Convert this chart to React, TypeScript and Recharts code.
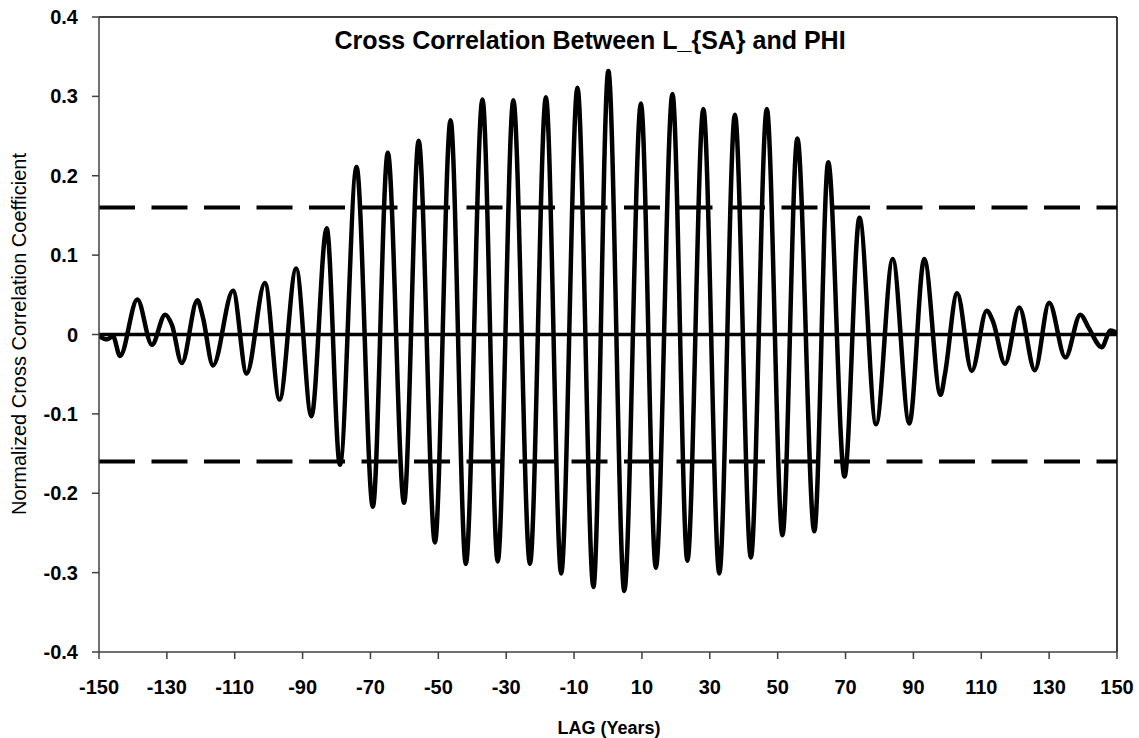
import { LineChart, Line, XAxis, YAxis, ReferenceLine } from "recharts";

// lag (years) at each turning point of the curve
const lags = [
  -150, -147.6, -145.9, -143.8, -138.7, -134.4, -130.5, -128.5, -125.6, -121.0,
  -119.4, -116.4, -110.5, -106.5, -101.1, -96.8, -91.9, -87.4, -82.9, -79.0,
  -74.1, -69.3, -64.9, -60.1, -55.8, -51.0, -46.4, -41.9, -37.0, -32.5,
  -27.9, -23.0, -18.3, -13.8, -9.0, -4.3, 0.1, 4.8, 9.7, 14.1,
  19.0, 23.4, 28.1, 32.8, 37.4, 42.1, 46.8, 51.4, 55.8, 60.8,
  64.9, 69.7, 74.1, 79.0, 83.9, 88.8, 93.2, 98.0, 99.3, 102.9,
  107.2, 111.6, 113.5, 117.0, 121.2, 125.8, 130.0, 134.8, 139.2, 141.7,
  145.5, 148.1, 150,
];

const coeff = [
  -0.002, -0.006, -0.002, -0.027, 0.044, -0.013, 0.025, 0.012, -0.036, 0.043,
  0.022, -0.039, 0.055, -0.049, 0.065, -0.082, 0.083, -0.103, 0.134, -0.164,
  0.211, -0.217, 0.229, -0.212, 0.244, -0.262, 0.27, -0.289, 0.296, -0.286,
  0.295, -0.289, 0.299, -0.301, 0.311, -0.318, 0.332, -0.323, 0.291, -0.294,
  0.303, -0.285, 0.284, -0.301, 0.277, -0.281, 0.284, -0.253, 0.247, -0.248,
  0.217, -0.179, 0.147, -0.113, 0.095, -0.112, 0.095, -0.076, -0.05, 0.052,
  -0.046, 0.03, 0.016, -0.037, 0.034, -0.045, 0.04, -0.029, 0.025, 0.008,
  -0.016, 0.005, 0.002,
];

const xTicks = [-150, -130, -110, -90, -70, -50, -30, -10, 10, 30, 50, 70, 90, 110, 130, 150];
const yTicks = [-0.4, -0.3, -0.2, -0.1, 0, 0.1, 0.2, 0.3, 0.4];
const significance = 0.16;

const data = lags.map((lag, i) => ({ lag, r: coeff[i] }));

const font = "'Liberation Sans', Arial, sans-serif";
const tickStyle = { fill: "#000", fontSize: 20, fontWeight: 700, fontFamily: font };

export default function App() {
  return (
    <div style={{ position: "absolute", left: 0, top: 0, width: 1139, height: 738, background: "#fff" }}>
      <LineChart
        width={1139}
        height={738}
        data={data}
        margin={{ top: 17, right: 22, left: 0, bottom: 36 }}
      >
        <XAxis
          dataKey="lag"
          type="number"
          domain={[-150, 150]}
          ticks={xTicks}
          allowDataOverflow
          height={50}
          tickSize={7}
          tickMargin={21}
          tick={tickStyle}
          axisLine={{ stroke: "#404040", strokeWidth: 1.5 }}
          tickLine={{ stroke: "#404040", strokeWidth: 1.5 }}
        />
        <YAxis
          type="number"
          domain={[-0.4, 0.4]}
          ticks={yTicks}
          allowDataOverflow
          width={99}
          tickSize={7}
          tickMargin={14}
          tick={tickStyle}
          tickFormatter={(v: number) => String(v)}
          axisLine={{ stroke: "#404040", strokeWidth: 1.5 }}
          tickLine={{ stroke: "#404040", strokeWidth: 1.5 }}
        />

        {/* plot frame */}
        <ReferenceLine y={0.4} stroke="#000" strokeWidth={1.5} />
        <ReferenceLine x={150} stroke="#000" strokeWidth={1.5} />

        <ReferenceLine y={0} stroke="#000" strokeWidth={3.5} />
        <ReferenceLine y={significance} stroke="#000" strokeWidth={4} strokeDasharray="36 16.5" />
        <ReferenceLine y={-significance} stroke="#000" strokeWidth={4} strokeDasharray="36 16.5" />

        <Line
          type="monotone"
          dataKey="r"
          stroke="#000"
          strokeWidth={4.5}
          dot={false}
          activeDot={false}
          isAnimationActive={false}
        />
      </LineChart>

      <svg
        width={1139}
        height={738}
        style={{ position: "absolute", left: 0, top: 0, pointerEvents: "none" }}
      >
        <text x={590} y={49} textAnchor="middle" fontFamily={font} fontWeight={700} fontSize={25} fill="#000">
          Cross Correlation Between L_{"{SA}"} and PHI
        </text>
        <text x={609} y={734} textAnchor="middle" fontFamily={font} fontWeight={700} fontSize={18} fill="#000">
          LAG (Years)
        </text>
        <text
          x={0}
          y={0}
          transform="translate(26 334) rotate(-90)"
          textAnchor="middle"
          fontFamily={font}
          fontSize={20}
          fill="#000"
        >
          Normalized Cross Correlation Coefficient
        </text>
      </svg>
    </div>
  );
}
